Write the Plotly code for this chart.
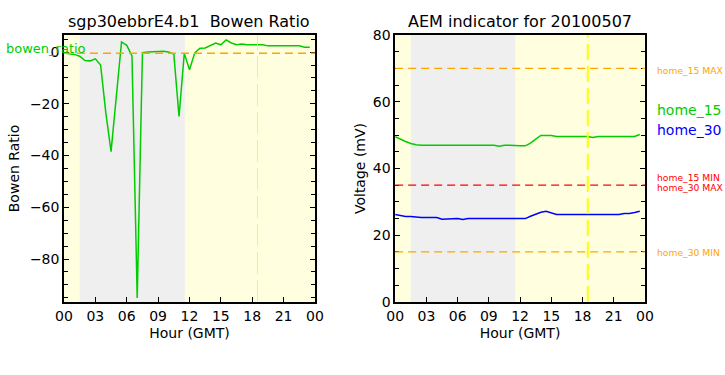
import plotly.graph_objects as go

# ---------------- data ----------------
hours = [i * 0.5 for i in range(48)]

bowen_ratio = [-0.4, -0.6, -0.9, -1.6, -3.3, -3.4, -2.6, -5.0, -23.5, -38.5,
               -18.0, 3.9, 2.6, -1.5, -95.0, -0.2, 0.0, 0.0, 0.2, 0.3,
               0.0, -0.8, -24.9, -0.5, -6.8, -0.3, 1.5, 1.6, 2.7, 3.5,
               2.8, 4.7, 3.5, 2.8, 3.1, 2.8, 2.8, 2.8, 2.8, 2.4,
               2.4, 2.4, 2.4, 2.4, 2.4, 2.4, 1.9, 1.9]

home_15 = [49.5, 48.7, 48.1, 47.5, 47.1, 47.0, 47.0, 47.2, 47.0, 47.2,
           47.0, 47.0, 47.0, 47.0, 47.0, 47.0, 47.0, 47.0, 47.0, 47.0,
           46.7, 47.0, 47.0, 46.8, 46.8, 46.8, 47.6, 48.8, 49.9, 49.9,
           49.9, 49.6, 49.6, 49.6, 49.6, 49.6, 49.6, 49.6, 49.3, 49.6,
           49.6, 49.6, 49.6, 49.6, 49.6, 49.8, 49.6, 50.2]

home_30 = [26.2, 25.8, 25.6, 25.6, 25.4, 25.3, 25.3, 25.2, 25.3, 24.8,
           24.8, 25.0, 25.0, 24.7, 25.0, 25.0, 25.0, 25.0, 25.0, 25.0,
           25.0, 25.0, 25.0, 25.0, 25.0, 25.0, 25.7, 26.3, 26.9, 27.2,
           26.7, 26.2, 26.2, 26.2, 26.2, 26.2, 26.2, 26.2, 26.2, 26.2,
           26.2, 26.2, 26.2, 26.2, 26.5, 26.5, 26.8, 27.2]

hour_ticks = [0, 3, 6, 9, 12, 15, 18, 21, 24]
hour_labels = ["00", "03", "06", "09", "12", "15", "18", "21", "00"]

night_start, night_end = 1.5, 11.55
now_hour = 18.5
bowen_ref = -0.5
home_15_max, home_15_min = 70, 35
home_30_max, home_30_min = 35, 15

# ---------------- figure ----------------
FONT = "DejaVu Sans"
fig = go.Figure()

fig.add_trace(go.Scatter(x=hours, y=bowen_ratio, mode="lines",
                         line=dict(color="#00cc00", width=1.5),
                         xaxis="x", yaxis="y", showlegend=False))
fig.add_trace(go.Scatter(x=hours, y=home_15, mode="lines",
                         line=dict(color="#00cc00", width=1.5),
                         xaxis="x2", yaxis="y2", showlegend=False))
fig.add_trace(go.Scatter(x=hours, y=home_30, mode="lines",
                         line=dict(color="#0000ff", width=1.5),
                         xaxis="x2", yaxis="y2", showlegend=False))

shapes = []
for xr, yr in (("x", "y"), ("x2", "y2")):
    shapes.append(dict(type="rect", xref=f"{xr} domain", yref=f"{yr} domain",
                       x0=0, x1=1, y0=0, y1=1, fillcolor="#ffffe0",
                       line=dict(width=0), layer="below"))
    shapes.append(dict(type="rect", xref=xr, yref=f"{yr} domain",
                       x0=night_start, x1=night_end, y0=0, y1=1,
                       fillcolor="#efefef", line=dict(width=0), layer="below"))

# left panel reference lines
shapes.append(dict(type="line", xref="x", yref="y", x0=0, x1=24,
                   y0=bowen_ref, y1=bowen_ref,
                   line=dict(color="#ffa500", width=1.5, dash="8px,5px")))
shapes.append(dict(type="line", xref="x", yref="y domain", x0=now_hour, x1=now_hour,
                   y0=0, y1=1, line=dict(color="#ffff00", width=1, dash="22px,6px")))
# right panel reference lines
for val, col in ((home_15_max, "#ffa500"), (home_15_min, "#ff0000"),
                 (home_30_min, "#ffa500")):
    shapes.append(dict(type="line", xref="x2", yref="y2", x0=0, x1=24,
                       y0=val, y1=val,
                       line=dict(color=col, width=1.3, dash="8px,5px")))
shapes.append(dict(type="line", xref="x2", yref="y2 domain", x0=now_hour, x1=now_hour,
                   y0=0, y1=1, line=dict(color="#ffff00", width=2, dash="16px,6px")))

annotations = [
    dict(text="sgp30ebbrE4.b1  Bowen Ratio", xref="x domain", yref="paper",
         x=0.5, y=1.0, yshift=2, xanchor="center", yanchor="bottom",
         showarrow=False, font=dict(family=FONT, size=16, color="black")),
    dict(text="AEM indicator for 20100507", xref="x2 domain", yref="paper",
         x=0.5, y=1.0, yshift=2, xanchor="center", yanchor="bottom",
         showarrow=False, font=dict(family=FONT, size=16, color="black")),
    dict(text="bowen_ratio", xref="paper", yref="y", x=-0.104, y=1.2,
         xanchor="left", yanchor="middle", showarrow=False,
         font=dict(family=FONT, size=13, color="#00cc00")),
]
side_labels = [
    ("home_15 MAX", 69.5, "#ffa500", 9.2),
    ("home_15", 57.5, "#00cc00", 14),
    ("home_30", 51.5, "#0000ff", 14),
    ("home_15 MIN", 37.4, "#ff0000", 9.2),
    ("home_30 MAX", 34.3, "#ff0000", 9.2),
    ("home_30 MIN", 14.8, "#ffa500", 9.2),
]
for txt, yv, col, sz in side_labels:
    annotations.append(dict(text=txt, xref="x2 domain", yref="y2", x=1.0, y=yv,
                            xshift=10, xanchor="left", yanchor="middle",
                            showarrow=False,
                            font=dict(family=FONT, size=sz, color=col)))

xcommon = dict(range=[0, 24], tickvals=hour_ticks, ticktext=hour_labels,
               ticks="inside", ticklen=5, tickwidth=1, tickcolor="black",
               showline=True, linecolor="black", linewidth=1.5, mirror=True,
               showgrid=False, zeroline=False,
               tickfont=dict(family=FONT, size=14, color="black"),
               title=dict(text="Hour (GMT)", standoff=6,
                          font=dict(family=FONT, size=14, color="black")))
ycommon = dict(ticks="inside", ticklen=5, tickwidth=1, tickcolor="black",
               showline=True, linecolor="black", linewidth=1.5, mirror="ticks",
               showgrid=False, zeroline=False,
               tickfont=dict(family=FONT, size=14, color="black"))

fig.update_layout(
    width=725, height=375,
    margin=dict(l=64, r=80, t=35, b=73),
    paper_bgcolor="white", plot_bgcolor="rgba(0,0,0,0)",
    shapes=shapes, annotations=annotations,
    xaxis=dict(domain=[0, 0.432], anchor="y", **xcommon),
    xaxis2=dict(domain=[0.570, 1.0], anchor="y2", **xcommon),
    yaxis=dict(domain=[0, 1], anchor="x", range=[-96.6, 6.6],
               tickvals=[-80, -60, -40, -20, 0], ticktext=["\u221280", "\u221260", "\u221240", "\u221220", "0"],
               minor=dict(dtick=5, tick0=0, ticks="inside", ticklen=4, tickcolor="black"),
               title=dict(text="Bowen Ratio", standoff=7,
                          font=dict(family=FONT, size=14, color="black")),
               **ycommon),
    yaxis2=dict(domain=[0, 1], anchor="x2", range=[0, 80],
                tickvals=[0, 20, 40, 60, 80],
                minor=dict(dtick=5, tick0=0, ticks="inside", ticklen=4, tickcolor="black"),
                title=dict(text="Voltage (mV)", standoff=4,
                           font=dict(family=FONT, size=14, color="black")),
                **ycommon),
)

fig.write_html("out.html", config={"displayModeBar": False},
               post_script="document.body.style.margin='0';document.body.style.padding='0';")
